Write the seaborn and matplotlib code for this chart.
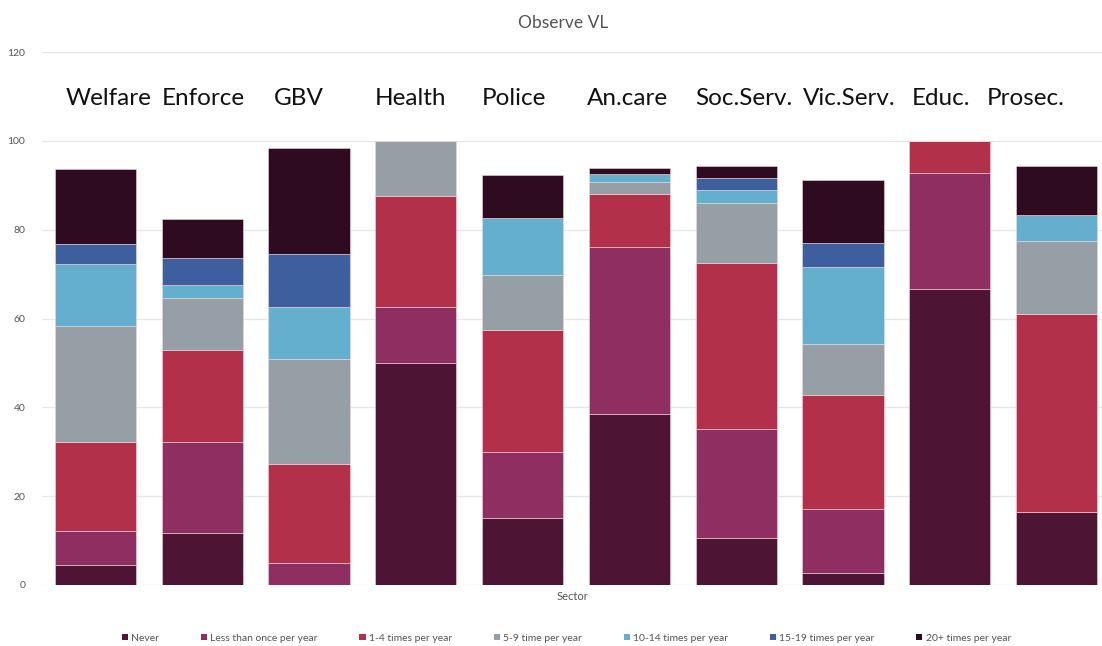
import matplotlib
matplotlib.use("Agg")
import matplotlib.pyplot as plt
import seaborn as sns
import numpy as np
import pandas as pd
from matplotlib.patches import Patch

sectors = ["Welfare", "Enforce", "GBV", "Health", "Police", "An.care",
           "Soc.Serv.", "Vic.Serv.", "Educ.", "Prosec."]
series_names = ["Never", "Less than once per year", "1-4 times per year",
                "5-9 time per year", "10-14 times per year",
                "15-19 times per year", "20+ times per year"]
never = [4.5, 11.6, 0.0, 50.0, 15.0, 38.5, 10.5, 2.6, 66.7, 16.5]
less_than_once = [7.7, 20.7, 5.0, 12.5, 15.0, 37.6, 24.6, 14.5, 26.0, 0.0]
times_1_4 = [20.1, 20.5, 22.2, 25.0, 27.3, 11.9, 37.5, 25.7, 7.3, 44.5]
times_5_9 = [26.0, 11.8, 23.6, 12.5, 12.5, 2.8, 13.5, 11.4, 0.0, 16.5]
times_10_14 = [14.0, 3.0, 11.7, 0.0, 12.8, 1.7, 2.9, 17.3, 0.0, 5.7]
times_15_19 = [4.5, 6.0, 12.0, 0.0, 0.0, 0.0, 2.7, 5.6, 0.0, 0.0]
times_20_plus = [16.8, 8.8, 23.8, 0.0, 9.7, 1.3, 2.7, 14.1, 0.0, 11.2]
y_ticks = [0, 20, 40, 60, 80, 100, 120]

series_values = [never, less_than_once, times_1_4, times_5_9,
                 times_10_14, times_15_19, times_20_plus]
colors = ["#4E1433", "#8F2E60", "#B3304A", "#979FA6", "#63AFCD",
          "#3E5F9E", "#2E0B1E"]

sns.set_style("white")
plt.rcParams["font.family"] = ["Lato", "DejaVu Sans"]

fig = plt.figure(figsize=(11.02, 6.46), dpi=100)
ax = fig.add_axes([42 / 1102, 1 - 585 / 646, 1060 / 1102, 533 / 646])

bottom = np.zeros(len(sectors))
for name, vals, col in zip(series_names, series_values, colors):
    df = pd.DataFrame({"Sector": sectors, "value": vals})
    sns.barplot(data=df, x="Sector", y="value", order=sectors, color=col,
                bottom=bottom.copy(), width=0.76, ax=ax, saturation=1,
                edgecolor="#f0d6dc", linewidth=0.4, errorbar=None)
    bottom += np.array(vals)

ax.set_xlim(-0.5, 9.425)
ax.set_ylim(0, 120)
ax.set_yticks(y_ticks)
ax.set_yticklabels([str(t) for t in y_ticks])
ax.tick_params(axis="y", length=0, labelsize=7.5, labelcolor="#555555", pad=12)
ax.set_xticks([])
ax.set_xlabel("Sector", fontsize=8, color="#555555", labelpad=4)
ax.set_ylabel("")
ax.yaxis.grid(True, color="#e6e6e6", linewidth=0.9)
ax.set_axisbelow(True)
for s in ax.spines.values():
    s.set_visible(False)

label_offsets = [0.1, 0.0, 0.05, 0.0, 0.0, -0.02, 0.0, 0.0, 0.02, -0.27]
for i, (lab, off) in enumerate(zip(sectors, label_offsets)):
    ax.text(i - 0.38 + off, 109.5, lab, ha="left", va="center",
            fontsize=17.5, color="#111111")

fig.text(0.511, 0.964, "Observe VL", ha="center", va="center",
         fontsize=12.5, color="#555555")

handles = [Patch(facecolor=c, edgecolor="none") for c in colors]
fig.legend(handles, series_names, loc="center", bbox_to_anchor=(0.514, 0.012),
           ncol=7, frameon=False, fontsize=7.5, handlelength=0.6,
           handleheight=0.6, handletextpad=0.3, columnspacing=4.0,
           labelcolor="#555555")

fig.savefig("out.png", dpi=100)
